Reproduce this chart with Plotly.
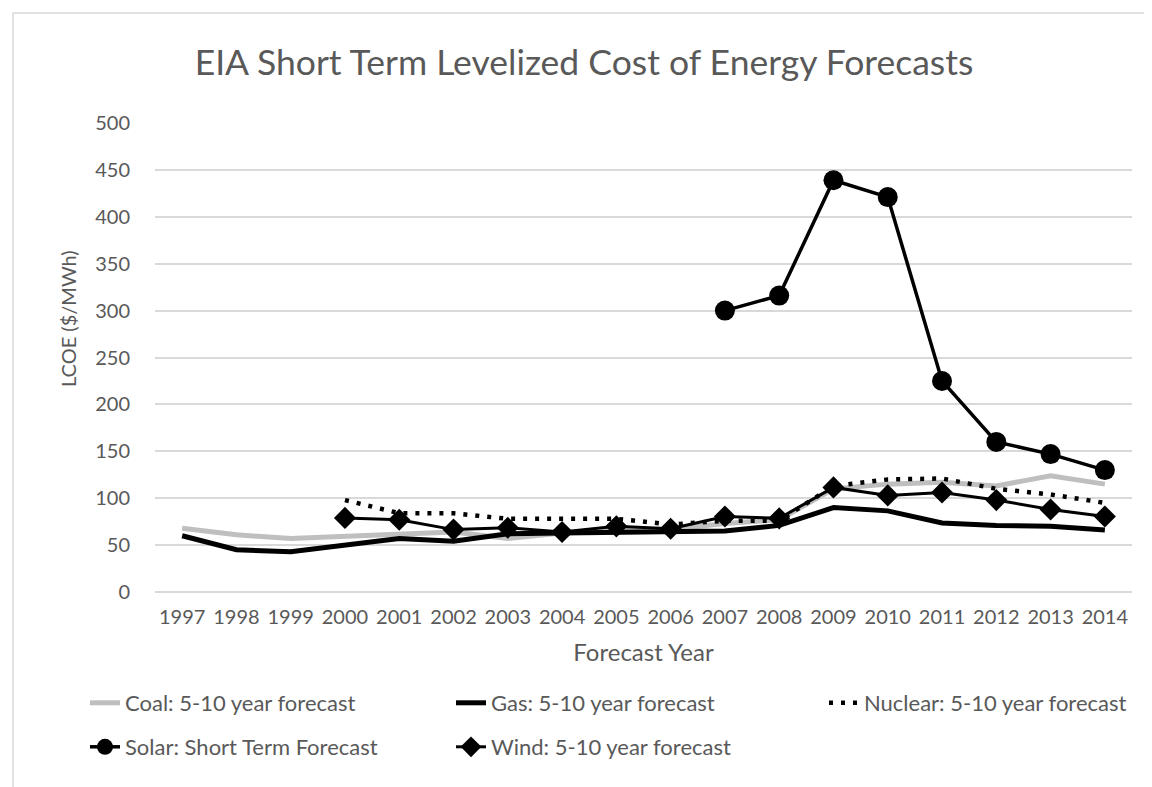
import plotly.graph_objects as go

years = ["1997", "1998", "1999", "2000", "2001", "2002", "2003", "2004", "2005",
         "2006", "2007", "2008", "2009", "2010", "2011", "2012", "2013", "2014"]
coal = [68, 61, 57, 59, 61, 64, 57, 63, 66, 67, 73, 77, 110, 115, 117, 113, 124, 115]
gas = [60, 45, 43, 50, 57, 54, 62, 63, 64, 64.5, 65, 71, 90, 86.5, 73.5, 71, 70, 66]
nuclear = [None, None, None, 98, 84, 84, 78, 78, 78, 72, 76, 76, 113, 120, 121, 110, 104, 95]
solar = [None, None, None, None, None, None, None, None, None, None,
         300, 316, 439, 421, 225, 160, 147, 130]
wind = [None, None, None, 79, 77, 66.5, 68.5, 64, 70, 67.5, 80.5, 78.5, 111.5, 103, 106, 98, 88, 80.5]

FONT = "Lato, Open Sans, sans-serif"
TXT = "#595959"

fig = go.Figure()
fig.add_trace(go.Scatter(x=years, y=coal, name="Coal: 5-10 year forecast", mode="lines",
                         line=dict(color="#bfbfbf", width=5), legend="legend"))
fig.add_trace(go.Scatter(x=years, y=gas, name="Gas: 5-10 year forecast", mode="lines",
                         line=dict(color="#000000", width=5), legend="legend"))
fig.add_trace(go.Scatter(x=years, y=nuclear, name="Nuclear: 5-10 year forecast", mode="lines",
                         line=dict(color="#000000", width=4.5, dash="4px,8px"), legend="legend3"))
fig.add_trace(go.Scatter(x=years, y=solar, name="Solar: Short Term Forecast", mode="lines+markers",
                         line=dict(color="#000000", width=3.5),
                         marker=dict(symbol="circle", size=20, color="#000000"), legend="legend2"))
fig.add_trace(go.Scatter(x=years, y=wind, name="Wind: 5-10 year forecast", mode="lines+markers",
                         line=dict(color="#000000", width=3),
                         marker=dict(symbol="diamond", size=17, color="#000000"), legend="legend2"))

W, H = 1152, 787
L, R, T, B = 147, 1124, 115, 584

def px_x(X):
    return (X - L) / (R - L)

def px_y(Y):
    return (B - Y) / (B - T)

LEG_FONT = dict(size=22, color=TXT, family=FONT)

fig.update_layout(
    width=W, height=H,
    margin=dict(l=L, r=W - R, t=T, b=H - B, pad=0),
    paper_bgcolor="white", plot_bgcolor="white",
    font=dict(family=FONT, color=TXT, size=20),
    title=dict(text="EIA Short Term Levelized Cost of Energy Forecasts",
               x=0.5, xanchor="center", xref="container", y=1 - 55 / H, yanchor="middle", yref="container",
               font=dict(size=35.5, color=TXT, family=FONT)),
    xaxis=dict(type="category", range=[-0.5, 17.5], showgrid=False, showline=False, zeroline=False,
               ticks="", tickangle=0, ticklabelstandoff=11, tickfont=dict(size=20, color=TXT),
               title=dict(text="Forecast Year", font=dict(size=24, color=TXT), standoff=17)),
    yaxis=dict(range=[0, 500], dtick=50, showgrid=True, gridcolor="#d9d9d9", gridwidth=1.5,
               zeroline=True, zerolinecolor="#d9d9d9", zerolinewidth=1.5, showline=False,
               ticks="", ticklabelstandoff=24, tickfont=dict(size=20, color=TXT)),
    legend=dict(orientation="h", x=px_x(77), xanchor="left", y=px_y(695), yanchor="middle",
                entrywidth=321, entrywidthmode="pixels", font=LEG_FONT,
                bgcolor="rgba(0,0,0,0)", traceorder="normal"),
    legend3=dict(orientation="h", x=px_x(816), xanchor="left", y=px_y(695), yanchor="middle",
                 font=LEG_FONT, bgcolor="rgba(0,0,0,0)", traceorder="normal"),
    legend2=dict(orientation="h", x=px_x(77), xanchor="left", y=px_y(739), yanchor="middle",
                 entrywidth=321, entrywidthmode="pixels", font=LEG_FONT,
                 bgcolor="rgba(0,0,0,0)", traceorder="normal"),
    showlegend=True,
    annotations=[dict(text="LCOE ($/MWh)", textangle=-90, showarrow=False,
                      xref="paper", yref="paper", x=px_x(60), y=px_y(311),
                      xanchor="center", yanchor="middle",
                      font=dict(size=20, color=TXT, family=FONT))],
    shapes=[dict(type="rect", xref="paper", yref="paper",
                 x0=px_x(5), x1=px_x(1170), y0=px_y(5), y1=px_y(800),
                 line=dict(color="#d9d9d9", width=1.5), fillcolor="rgba(0,0,0,0)", layer="below")],
)

fig.write_html("out.html")
